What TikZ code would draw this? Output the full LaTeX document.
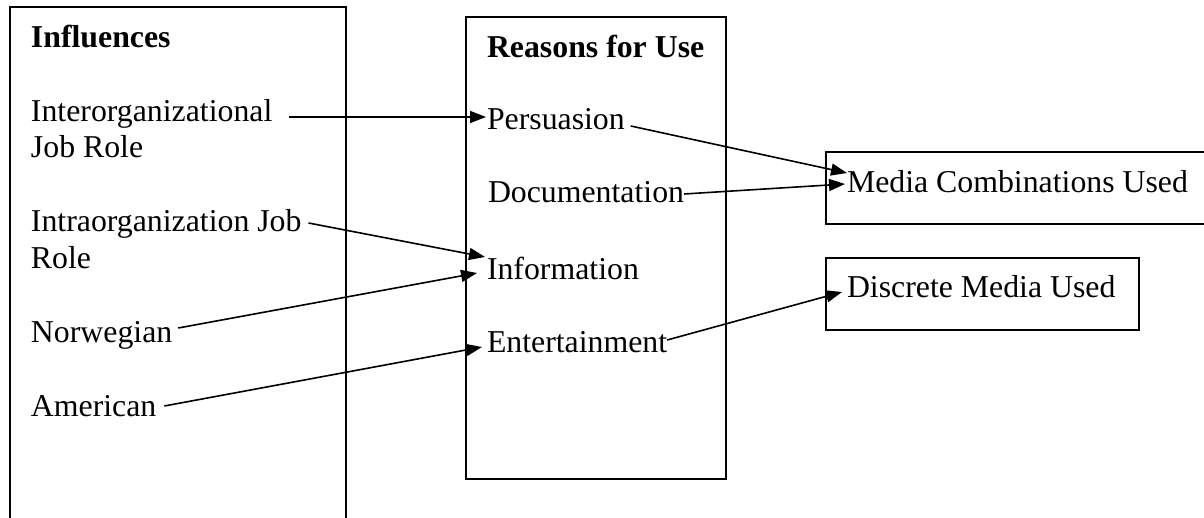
\documentclass[tikz,border=0pt]{standalone}
\usepackage{fontspec}
\setmainfont{Liberation Serif}
\usetikzlibrary{arrows.meta}
\tikzset{
  lbl/.style={anchor=base west, inner sep=0pt, outer sep=0pt,
              font=\fontsize{15.9pt}{18pt}\selectfont},
  head/.style={lbl, font=\fontsize{15.9pt}{18pt}\selectfont\bfseries},
  frame/.style={draw, line width=1pt},
  link/.style={line width=0.8pt, -{Triangle[length=8pt,width=6pt]}},
}
\begin{document}
\begin{tikzpicture}[x=0.5pt, y=-0.5pt]
  \useasboundingbox (0,0) rectangle (1204,518);
  \clip (0,0) rectangle (1204,518);

  % frames
  \draw[frame] (10,7) rectangle (346,540);
  \draw[frame] (466,17) rectangle (726,479);
  \draw[frame] (826,152) rectangle (1230,224);
  \draw[frame] (826,258) rectangle (1139,330);

  % influences column
  \node[head] (infl) at (31,48) {Influences};
  \node[lbl] (inter1) at (31,122) {Interorganizational};
  \node[lbl] (inter2) at (31,158) {Job Role};
  \node[lbl] (intra1) at (31,232) {Intraorganization Job};
  \node[lbl] (intra2) at (31,269) {Role};
  \node[lbl] (norw) at (31,343) {Norwegian};
  \node[lbl] (amer) at (31,416) {American};

  % reasons column
  \node[head] (reas) at (487,58) {Reasons for Use};
  \node[lbl] (pers) at (487,130) {Persuasion};
  \node[lbl] (docu) at (488,203) {Documentation};
  \node[lbl] (info) at (487,279) {Information};
  \node[lbl] (ente) at (487,352) {Entertainment};

  % outcomes
  \node[lbl] (media) at (847,193) {Media Combinations Used};
  \node[lbl] (disc) at (847,297) {Discrete Media Used};

  % connectors
  \draw[link] ([shift={(17,-5)}]inter1.base east) -- ([shift={(-1,-13)}]pers.base west);
  \draw[link] ([shift={(6,-4)}]pers.base east) -- ([shift={(0,-20)}]media.base west);
  \draw[link] ([shift={(0,-9)}]docu.base east) -- ([shift={(-2,-9)}]media.base west);
  \draw[link] ([shift={(7,-9)}]intra1.base east) -- ([shift={(-2,-22)}]info.base west);
  \draw[link] ([shift={(6,-15)}]norw.base east) -- ([shift={(-10,-6)}]info.base west);
  \draw[link] ([shift={(8,-10)}]amer.base east) -- ([shift={(-5,-5)}]ente.base west);
  \draw[link] ([shift={(0,-12)}]ente.base east) -- ([shift={(-5,-5)}]disc.base west);
\end{tikzpicture}
\end{document}
